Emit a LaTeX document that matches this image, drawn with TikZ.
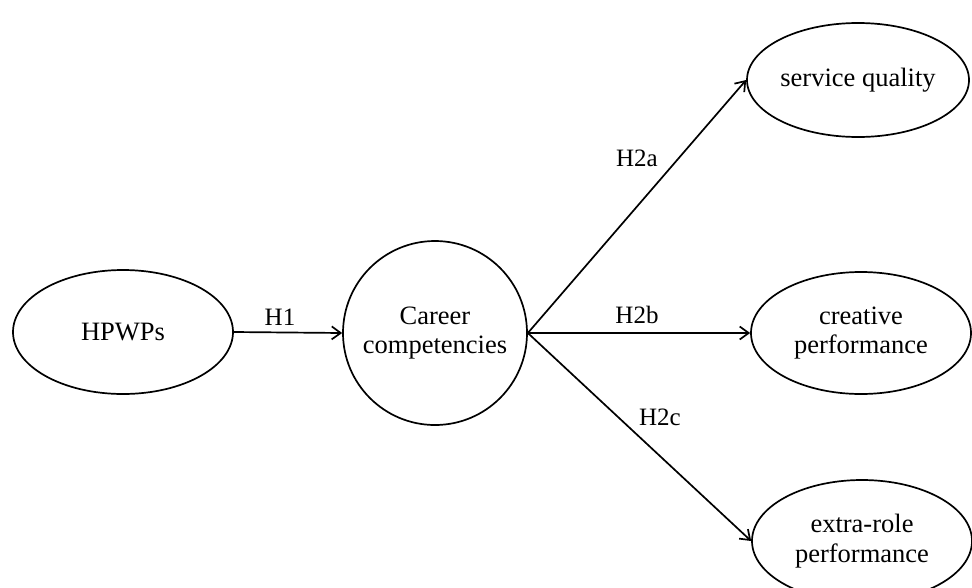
\documentclass[tikz,border=0pt]{standalone}
\usepackage{fontspec}
\setmainfont{Liberation Serif}
\usetikzlibrary{shapes.geometric,arrows.meta}
\begin{document}
\begin{tikzpicture}[x=1pt,y=-1pt,
  every node/.style={font=\fontsize{26.5}{29.5}\selectfont, align=center, inner sep=0pt},
  construct/.style={draw, ellipse, line width=1.7pt},
  hub/.style={draw, circle, line width=1.7pt, minimum size=184pt},
  link/.style={line width=1.7pt, -{Straight Barb[length=9pt,width=13pt,line width=1.7pt]}},
  hyp/.style={font=\fontsize{25}{28}\selectfont}]
\useasboundingbox (0,0) rectangle (972,587);
\clip (0,0) rectangle (972,587);
\node[construct, minimum width=220pt, minimum height=124pt] (hp) at (123,332) {HPWPs};
\node[hub] (cc) at (435,333) {Career\\competencies};
\node[construct, minimum width=222pt, minimum height=114pt] (sq) at (858,80) {service quality};
\node[construct, minimum width=220pt, minimum height=122pt] (cp) at (861,333) {creative\\performance};
\node[construct, minimum width=220pt, minimum height=122pt] (er) at (862,541) {extra-role\\performance};
\draw[link] (hp.east) -- (cc.west);
\draw[link] (cc.east) -- (sq.west);
\draw[link] (cc.east) -- (cp.west);
\draw[link] (cc.east) -- (er.west);
\node[hyp] (l1) at (280,317) {H1};
\node[hyp] (l2a) at (637,158) {H2a};
\node[hyp] (l2b) at (637,315) {H2b};
\node[hyp] (l2c) at (660,417) {H2c};
\end{tikzpicture}
\end{document}
